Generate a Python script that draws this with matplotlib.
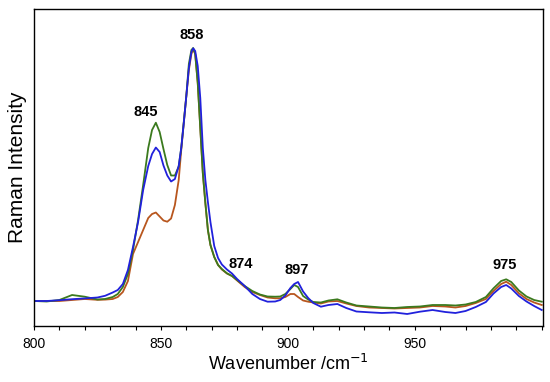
import matplotlib
matplotlib.use("Agg")
import matplotlib.pyplot as plt
from matplotlib.ticker import MultipleLocator

plt.rcParams['font.family'] = ['Liberation Sans', 'DejaVu Sans']

# wavenumber grid (cm-1) shared by the three spectra
wavenumber = [800, 805, 810, 815, 820, 825, 828, 831, 833, 835, 837, 839, 841, 843,
              845, 846.5, 848, 849.5, 851, 852.5, 854, 855.5, 857, 858, 859, 860, 861,
              862, 862.7, 863.5, 864.5, 865.5, 866.5, 867.5, 868.5, 869.5, 871, 872.5,
              874, 876, 878, 880, 883, 886, 889, 892, 895, 897, 899, 901, 902.5, 904,
              906, 908, 910, 913, 916, 919.5, 923, 927, 932, 937, 942, 947, 952, 957,
              962, 966, 970, 974, 978, 981, 984, 986, 988, 991, 994, 997, 1000]

# intensities (arbitrary units)
blue = [25, 25, 25.8, 26.8, 27.6, 28.5, 30.2, 33.5, 36, 42, 56, 79, 104, 136,
        160, 172, 178.5, 174, 160.5, 150.5, 144.5, 147, 160, 178, 203, 230, 258,
        274, 277.7, 275, 260, 228, 178, 146, 124, 104, 80, 68,
        61.5, 56.5, 52.5, 47, 40, 32, 27, 24.3, 24.5, 26, 30.5, 38, 42, 44,
        34.5, 28, 23, 19.3, 21, 22, 18, 14.5, 13.7, 13, 13.5, 12, 14.3, 16,
        14, 13, 15, 19, 24, 32.5, 39, 41, 37.5, 30, 24.5, 20, 16]

green = [25, 24.5, 26, 31, 29.3, 26.5, 27, 29, 32, 39, 52, 76, 106, 141,
         178, 196, 203.3, 194, 177, 161, 150.5, 150.5, 159.5, 178, 204, 230, 262,
         276, 278, 272, 243, 198, 153, 123, 96, 81, 69, 61,
         57, 52.7, 50, 46, 40, 35, 31.5, 29.5, 29.3, 29.5, 32, 37, 41, 39,
         30, 26.5, 24, 23.5, 25.5, 26.7, 23.5, 20.5, 19.5, 18.5, 18, 19, 19.5, 21,
         21, 20.5, 21.5, 24, 29, 37.7, 45, 46.7, 44, 35.5, 29.5, 26, 24.3]

brown = [25, 25, 25, 26, 27, 26.2, 26.4, 27, 29, 34, 45, 72, 84, 96,
         108, 112, 113.5, 109.5, 105.5, 104.3, 107.5, 121, 146, 176, 203, 230, 256,
         272, 277, 272, 243, 198, 153, 123, 96, 81, 69, 61,
         56.5, 52.5, 50, 45.5, 39, 34, 31, 28.5, 27.7, 27.7, 29, 32, 32, 29,
         25.5, 24.3, 23.5, 22.5, 24.5, 25, 22.5, 20, 18.5, 18, 17.5, 18, 18.5, 20,
         19.5, 18.5, 20, 23, 27, 35, 42, 44.3, 41, 32.7, 27, 23.5, 21]

peak_labels = ['845', '858', '874', '897', '975']
peak_x = [843.9, 862.0, 881.3, 903.6, 985.4]
peak_y = [214, 291, 62, 56, 61]

fig = plt.figure(figsize=(5.5, 3.82), dpi=100)
ax = fig.add_axes([0.0618, 0.1466, 0.9255, 0.8298])

ax.plot(wavenumber, brown, color='#b8561e', lw=1.3)
ax.plot(wavenumber, green, color='#3b7a1e', lw=1.3)
ax.plot(wavenumber, blue, color='#2121dc', lw=1.3)

for lab, px, py in zip(peak_labels, peak_x, peak_y):
    ax.text(px, py, lab, ha='center', va='center', fontsize=10.5, fontweight='bold')

ax.set_xlim(800, 1000.5)
ax.set_ylim(0, 317)
ax.xaxis.set_major_locator(MultipleLocator(50))
ax.xaxis.set_minor_locator(MultipleLocator(10))
ax.set_xticks([800, 850, 900, 950])
ax.tick_params(axis='x', which='both', direction='out', length=3, width=0.8,
               labelsize=10, pad=5)
ax.set_yticks([])
for s in ax.spines.values():
    s.set_linewidth(1.0)

ax.set_xlabel('Wavenumber /cm$^{-1}$', fontsize=13, labelpad=2)
ax.set_ylabel('Raman Intensity', fontsize=15, labelpad=5)

fig.savefig('out.png', dpi=100)
